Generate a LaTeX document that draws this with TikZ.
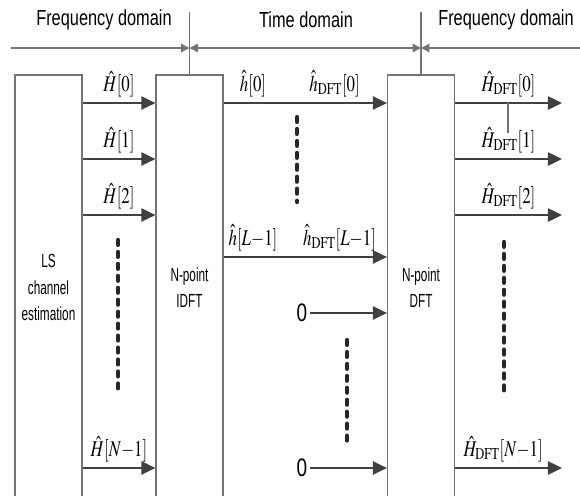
\documentclass[tikz,border=0pt]{standalone}
\usepackage{mathptmx}
\usepackage[no-math]{fontspec}
\setmainfont{Liberation Sans}
\usepackage{graphicx}
\usetikzlibrary{arrows.meta}

\newcommand{\nrw}[1]{\scalebox{0.75}[1]{#1}}
\newcommand{\bnrw}[1]{\scalebox{0.62}[1]{#1}}

\begin{document}
\begin{tikzpicture}[x=0.025cm,y=-0.025cm,
        box/.style={draw=black!55, line width=0.9pt, minimum width=1.675cm, minimum height=10.625cm, inner sep=0pt, align=center, font=\fontsize{13.5}{19}\selectfont},
        sig/.style={-{Triangle[length=10pt,width=9.5pt]}, line width=1pt, draw=black!75},
        edge/.style={line width=0.9pt, draw=black!55},
        span/.style={edge, -{Triangle[length=6pt,width=6pt]}},
        lbl/.style={font=\fontsize{16}{18}\selectfont, inner sep=1pt, above=3pt},
        dom/.style={font=\fontsize{15.5}{18}\selectfont},
        zero/.style={font=\fontsize{18}{20}\selectfont, inner sep=2pt},
        dots/.style={line width=3pt, line cap=round, dash pattern=on 3.5pt off 5pt, black!85}]
        \useasboundingbox (0,0) rectangle (580,495);

        % blocks
        \node (ls) [box] at (48.5,287.5) {\bnrw{LS}\\\bnrw{channel}\\\bnrw{estimation}};
        \node (idft) [box] at (189.5,287.5) {\bnrw{N-point}\\\bnrw{IDFT}};
        \node (dft) [box] at (421,287.5) {\bnrw{N-point}\\\bnrw{DFT}};

        % domains
        \node (fd1) [dom] at (104,20) {\nrw{Frequency domain}};
        \node (td) [dom] at (306,20) {\nrw{Time domain}};
        \node (fd2) [dom] at (506,20) {\nrw{Frequency domain}};
        \coordinate (s0) at (11,48);
        \coordinate (s3) at (580,48);
        \coordinate (t1) at (189.5,12);
        \coordinate (t2) at (421,12);
        \draw[edge] (t1) -- (idft.north);
        \draw[edge] (t2) -- (dft.north);
        \draw[span] (s0) -- (idft.north |- s0);
        \draw[span, {Triangle[length=6pt,width=6pt]}-{Triangle[length=6pt,width=6pt]}] (idft.north |- s0) -- (dft.north |- s0);
        \draw[span] (s3) -- (dft.north |- s0);

        % LS -> IDFT
        \foreach \y/\k in {103/0,159/1,215/2,468/N{-}1}
            \draw[sig] (ls.east |- 0,\y) -- node[lbl] {\nrw{$\hat{H}[\k]$}} (idft.west |- 0,\y);

        % IDFT -> DFT
        \draw[sig] (idft.east |- 0,103) -- node[lbl,pos=0.18] {\nrw{$\hat{h}[0]$}}
            node[lbl,pos=0.68] {\nrw{$\hat{h}_{\mathrm{DFT}}[0]$}} (dft.west |- 0,103);
        \draw[sig] (idft.east |- 0,257) -- node[lbl,pos=0.18] {\nrw{$\hat{h}[L{-}1]$}}
            node[lbl,pos=0.71] {\nrw{$\hat{h}_{\mathrm{DFT}}[L{-}1]$}} (dft.west |- 0,257);
        \node (z1) [zero] at (302,313) {\nrw{0}};
        \node (z2) [zero] at (302,468) {\nrw{0}};
        \draw[sig] (z1) -- (dft.west |- z1);
        \draw[sig] (z2) -- (dft.west |- z2);

        % DFT outputs
        \foreach \y/\k in {103/0,159/1,215/2}{
            \coordinate (o\k) at (562,\y);
            \draw[sig] (dft.east |- o\k) -- node[lbl] {\nrw{$\hat{H}_{\mathrm{DFT}}[\k]$}} (o\k);
        }
        \coordinate (oN) at (562,468);
        \draw[sig] (dft.east |- oN) -- node[lbl,pos=0.45] {\nrw{$\hat{H}_{\mathrm{DFT}}[N{-}1]$}} (oN);
        \draw[edge] (508,103) -- (508,133);

        % dots
        \draw[dots] (118,240) -- (118,395);
        \draw[dots] (297,117) -- (297,202);
        \draw[dots] (347,340) -- (347,445);
        \draw[dots] (504,242) -- (504,393);
    \end{tikzpicture}
\end{document}
